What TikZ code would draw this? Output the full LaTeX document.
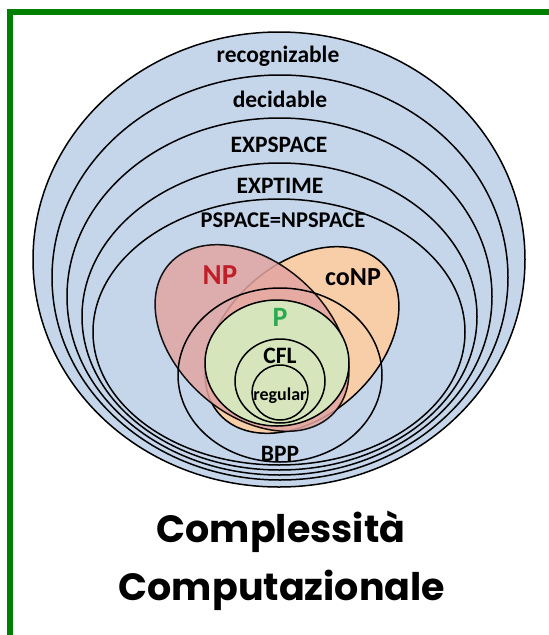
\documentclass[tikz,border=0pt]{standalone}
\usepackage{fontspec}
\newfontfamily\lab{Carlito}
\newfontfamily\ttl{Poppins}
\definecolor{bgblue}{RGB}{197,214,235}
\definecolor{nppink}{RGB}{226,165,161}
\definecolor{conporange}{RGB}{247,206,168}
\definecolor{pgreen}{RGB}{214,229,188}
\definecolor{npred}{RGB}{192,30,40}
\definecolor{ptext}{RGB}{45,170,80}
\definecolor{frame}{RGB}{0,128,0}
\tikzset{
  ring/.style={draw=black, line width=1.5pt, fill=bgblue},
  outl/.style={draw=black, line width=1.5pt},
  lbl/.style={font=\lab\bfseries\fontsize{23.5}{26}\selectfont, anchor=base, inner sep=0pt},
  ttlstyle/.style={font=\ttl\bfseries\fontsize{38}{42}\selectfont, anchor=base, inner sep=0pt}
}
\begin{document}
\begin{tikzpicture}[x=1pt,y=-1pt]
\useasboundingbox (0,0) rectangle (549,635);
\fill[white] (0,0) rectangle (549,635);
% frame
\draw[frame, line width=5.5pt, line join=miter] (9.8,640) -- (9.8,12) -- (560,12);
% nested classes
\draw[ring] (279,259.5) ellipse [x radius=246pt, y radius=227.5pt];
\draw[ring] (280,277.5) ellipse [x radius=228pt, y radius=202.5pt];
\draw[ring] (279.5,296.5) ellipse [x radius=212.5pt, y radius=178.5pt];
\draw[ring] (279.5,316.5) ellipse [x radius=197.5pt, y radius=153.5pt];
\draw[ring] (279,332) ellipse [x radius=186pt, y radius=133pt];
% coNP and NP
\draw[outl, fill=conporange, rotate around={42:(302,340)}] (302,340) ellipse [x radius=111pt, y radius=76pt];
\draw[outl, draw opacity=0.9, fill=nppink, fill opacity=0.85, rotate around={-42:(252,338)}] (252,338) ellipse [x radius=111pt, y radius=76pt];
% BPP
\draw[outl] (280,375) ellipse [x radius=102pt, y radius=87pt];
% P, CFL, regular
\draw[outl, fill=pgreen] (277,363) ellipse [x radius=72pt, y radius=63pt];
\draw[outl] (280,381) ellipse [x radius=45pt, y radius=42pt];
\draw[outl] (280,392.5) ellipse [x radius=28pt, y radius=27.5pt];
% labels
\node[lbl] (rec) at (278,62) {recognizable};
\node[lbl] (dec) at (280,107) {decidable};
\node[lbl] (exps) at (279,152) {EXPSPACE};
\node[lbl] (expt) at (280,193) {EXPTIME};
\node[lbl, font=\lab\bfseries\fontsize{22.5}{26}\selectfont] (psp) at (283,227) {PSPACE=NPSPACE};
\node[lbl, text=npred, font=\lab\bfseries\fontsize{29}{32}\selectfont] (np) at (220,284) {NP};
\node[lbl, font=\lab\bfseries\fontsize{26}{30}\selectfont] (conp) at (353,285) {coNP};
\node[lbl, text=ptext, font=\lab\bfseries\fontsize{28}{32}\selectfont] (p) at (280,326) {P};
\node[lbl] (cfl) at (280,363) {CFL};
\node[lbl, font=\lab\bfseries\fontsize{18}{20}\selectfont] (reg) at (280,400) {regular};
\node[lbl] (bpp) at (280,461) {BPP};
% title
\node[ttlstyle] (t1) at (281,542) {Complessità};
\node[ttlstyle] (t2) at (282,600) {Computazionale};
\end{tikzpicture}
\end{document}
